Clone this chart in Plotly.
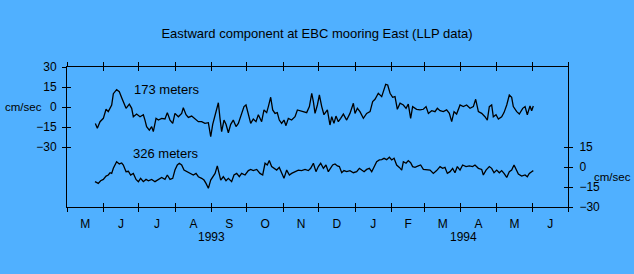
import pandas as pd
import plotly.graph_objects as go

# ---- data (day offsets from 1993-05-01, velocities in cm/sec) ----
days_173 = [24.1, 25.8, 28.1, 30.9, 33.2, 35.1, 38.0, 39.4, 42.2, 44.5, 46.5, 47.9, 50.2, 53.0, 55.0,
            56.4, 59.2, 62.1, 64.9, 66.3, 67.7, 70.0, 72.0, 73.4, 75.7, 77.7, 80.5, 83.3, 85.3, 87.6,
            89.9, 91.8, 94.7, 97.5, 98.9, 101.2, 103.2, 106.0, 108.8, 111.7, 114.5, 117.3, 120.2, 122.2,
            123.9, 125.9, 127.3, 128.7, 130.1, 131.5, 133.5, 135.2, 137.2, 139.2, 141.4, 143.7, 145.7,
            148.5, 150.5, 152.2, 154.2, 156.2, 158.4, 160.7, 162.7, 165.5, 167.5, 169.8, 171.2, 173.2,
            174.9, 176.9, 178.8, 180.5, 182.5, 184.5, 186.2, 188.2, 191.0, 193.9, 195.9, 198.1, 200.4,
            203.8, 206.1, 208.1, 209.5, 210.9, 212.9, 214.6, 216.6, 218.5, 221.4,
            223.6, 225.1, 227.0, 228.7, 230.7, 232.7, 235.0, 237.8, 240.6, 243.5, 244.9, 246.9, 249.1,
            252.0, 254.8, 257.7, 259.9, 261.9, 264.7, 267.6, 269.0, 271.0, 272.7, 274.7, 276.9, 278.9,
            280.9, 283.2, 286.0, 288.3, 290.2, 292.2, 293.9, 297.3, 300.2, 303.0, 305.3, 307.3, 310.1,
            312.9, 314.9, 317.2, 320.0, 322.8, 325.1, 327.1, 329.1, 331.3, 334.2, 337.0, 339.8, 342.7,
            345.5, 347.5, 349.8, 352.6, 355.4, 357.4, 359.1, 361.1, 362.5, 364.8, 366.8, 369.6, 371.6,
            373.9, 376.1, 378.1, 379.5, 382.4, 384.6, 387.5, 389.5, 391.4, 393.7, 395.1, 396.5]
vel_173 = [-12.3, -16, -11, -8.5, -1.7, -3.5, 1.5, 10, 13, 11.5, 7, 4, -1, 2.2, -1,
           -7.3, -5.3, -7.3, -5.8, -9.8, -14.7, -17.3, -14.7, -18.5, -8.5, -9.8, -8.5, -9, -4.2, -9.8,
           -12.3, -4.8, -7.3, -4.8, -0.5, -5.8, -7.8, -6.8, -9, -11, -11, -12.3, -11.8, -22.3,
           -13, -5.8, 0.3, 3.2, -8.5, -18.5, -9.8, -13, -19.3, -13, -9.8, -14.7, -12.3,
           -5.8, 0.3, 1.5, -5.8, -12.3, -9, -11, -5.8, -11, -2.2, -4.2, 0.3, 7.3,
           -2.2, -4.8, -4.2, -9.8, -12.3, -9.8, -14, -8.5, -9.8, -7.3, -2.2, -2.8, -3.5,
           -4.2, 0.3, 10.3, 4, -4.8, 1.5, 9, 0.3, -5.8, -2.2,
           -13.5, -7.3, -12.3, -6.8, -11, -8.5, -5.3, -9.8, -4.8, 2.8, -4.8, -1, -3.5,
           -8.5, -4.8, -3.5, 4, 5.8, 10.3, 7.8, 11.5, 17, 16.5, 10.3, 7.3, 7.8,
           -1.7, 2.8, 1.5, -1, 2.2, -8.5, 0.3, -1.7, -2.2, -1.7, 0.3, -4.8, -2.8,
           -3.5, -1, -2.8, -3.5, -2.2, -4.8, -11, -3.5, -5.3, 1.5, 0.3, 1.5, -1,
           0.3, 5.8, -3.5, -4.8, -7.3, -9.8, 0.3, 1.5, -7.3, -5.8, -9, -7.3, -4.2,
           1.5, 9, 7.3, 0.3, -3.5, -5.3, -1, 0.3, -5.8, 0.8, -2.8, 0.8]

days_326 = [23.8, 26.6, 28.6, 30.9, 33.2, 35.1, 36.6, 38.0, 39.4, 42.2, 44.5, 46.5, 47.9, 50.2, 52.2,
            54.1, 56.4, 58.7, 60.7, 62.6, 64.9, 67.2, 69.2, 72.0, 74.8, 77.7, 80.5, 83.3, 85.3, 87.6,
            89.9, 91.8, 93.8, 95.5, 97.5, 99.5, 101.8, 104.6, 107.4, 109.7, 111.7, 114.5, 116.5, 118.2,
            120.2, 122.2, 123.9, 125.9, 127.8, 129.0, 130.7, 132.9, 135.2, 137.2, 140.0, 142.0, 144.3,
            146.5, 148.5, 151.4, 154.2, 156.2, 158.4, 161.3, 164.1, 166.4, 168.4, 170.3, 172.0, 174.0,
            176.0, 178.3, 180.5, 182.5, 184.5, 186.8, 189.1, 191.0, 193.9, 196.7, 199.5, 202.4, 205.2,
            207.2, 209.5, 211.7, 213.7, 215.7, 218.0, 220.2, 222.2,
            223.6, 225.9, 227.9, 229.9, 231.6, 233.6, 235.5, 237.8, 240.6, 243.5, 246.3, 248.6, 250.6,
            252.6, 254.8, 257.1, 259.1, 261.1, 263.3, 265.6, 267.6, 269.6, 271.8, 274.1, 276.1, 278.1,
            280.3, 282.6, 284.6, 286.0, 288.3, 290.2, 292.2, 293.9, 295.9, 298.7, 300.7, 303.0, 305.8,
            308.7, 311.5, 314.3, 317.2, 319.4, 321.4, 323.4, 325.7, 327.9, 329.9, 331.9, 334.2, 336.4,
            339.3, 342.1, 344.9, 346.9, 349.8, 352.6, 354.0, 356.3, 359.1, 361.1, 363.1, 365.4, 367.6,
            369.6, 371.6, 373.9, 376.1, 378.1, 380.1, 381.8, 383.8, 386.6, 389.5, 391.4, 393.1, 395.1,
            396.5]
vel_326 = [-11, -12.3, -10.3, -9.3, -6.8, -6, -4.3, -4.8, -1, 4, 2.3, 3, 1.5, -3.5, -3.2,
           -6, -4.8, -9.3, -11, -8.5, -11, -9.3, -10.3, -9.3, -11, -9.3, -7.8, -9.3, -6, -9.3,
           -8.5, -2.3, 1.5, 2.8, 1.5, -2.3, -3.5, -4.8, -6, -4.8, -7.3, -8.5, -9.8, -12.3,
           -16, -9.8, -7.3, -4.8, 0.8, -4.8, -9.8, -7.3, -10.3, -8.5, -11, -6, -4.8,
           -7.3, -4.8, -6, -2.7, -1.8, -2.7, -1.8, -4.8, -6, 2.8, 1.5, 4.8, 0.3,
           -1, -2.3, -0.3, -4.3, -8.5, -2.3, -6, -4.8, -3.5, -2.3, -2.7, -1.8, -2.7,
           -1, 2.8, -3.5, 0.3, 2.8, -1, 1.5, -3.5,
           -1.8, 1.5, 2.3, 0.8, 0.3, -4.3, -2.7, -3.5, -2.7, -4.3, -3.5, -1, -2.3,
           -3.5, -1.8, -1, -3.5, 0.3, 4, 5.3, 5.5, 6.5, 5.5, 7.3, 5.3, 6.5,
           1.5, -0.3, -2.3, 4, 2.8, 4.8, 3.2, 0.3, -0.3, 0.8, 1.5, -1.8, -1.8,
           -2.3, -4.8, -2.7, 0.3, -1, -0.3, -4.8, -3.5, -1, -4.3, 0.3, -2.3, 1.5,
           0.3, 0.8, 0.3, 1.5, -1, -1.8, -6, -2.3, 0.3, -1, -4.3, -2.3, -4.3,
           -2.7, -4.8, -7.8, -3.5, -2.3, 1.5, -2.3, -5.3, -6.8, -6, -7.3, -4.8, -3.5,
           -2.7]

month_letters = ["M", "J", "J", "A", "S", "O", "N", "D", "J", "F", "M", "A", "M", "J"]
year_labels = ["1993", "1994"]
year_label_dates = ["1993-09-01", "1994-04-03"]
left_ticks = [-30, -15, 0, 15, 30]
right_ticks = [-30, -15, 0, 15]

start = pd.Timestamp("1993-05-01")
t173 = start + pd.to_timedelta(days_173, unit="D")
t326 = start + pd.to_timedelta(days_326, unit="D")

month_starts = pd.date_range("1993-05-01", "1994-07-01", freq="MS")
mid_months = [month_starts[i] + (month_starts[i + 1] - month_starts[i]) / 2 for i in range(len(month_starts) - 1)]
xrange = [month_starts[0], month_starts[-1]]

BG = "rgb(80,176,255)"
FONT = "Liberation Sans, Arial, sans-serif"
W_PLOT = 501  # plot-area width in px (used for paper-coordinate offsets of side labels)

fig = go.Figure()
fig.add_trace(go.Scatter(x=t173, y=vel_173, mode="lines", line=dict(color="black", width=1.3),
                         xaxis="x", yaxis="y", showlegend=False, hoverinfo="skip"))
fig.add_trace(go.Scatter(x=t326, y=vel_326, mode="lines", line=dict(color="black", width=1.3),
                         xaxis="x", yaxis="y3", showlegend=False, hoverinfo="skip"))
# empty traces to anchor overlay axes
for xa, ya in [("x2", "y2"), ("x3", "y4")]:
    fig.add_trace(go.Scatter(x=[], y=[], xaxis=xa, yaxis=ya, showlegend=False))

common_x = dict(type="date", range=xrange, showgrid=False, zeroline=False, showline=True,
                linecolor="black", linewidth=1, tickcolor="black", tickwidth=1)
common_y = dict(showgrid=False, zeroline=False, showline=True, linecolor="black", linewidth=1,
                tickcolor="black", tickwidth=1, tickfont=dict(family=FONT, size=12, color="black"))

fig.update_layout(
    width=634, height=274,
    margin=dict(l=67, r=66, t=67, b=67),
    paper_bgcolor=BG, plot_bgcolor=BG,
    font=dict(family=FONT, size=12, color="black"),
    title=dict(text="Eastward component at EBC mooring East (LLP data)", x=0.5, xanchor="center",
               y=1 - 33 / 274, yanchor="middle", font=dict(family=FONT, size=13, color="black")),
    xaxis=dict(**common_x, tickvals=month_starts, ticks="outside", ticklen=4, mirror="ticks",
               showticklabels=False, anchor="y"),
    xaxis2=dict(**common_x, tickvals=month_starts, ticks="inside", ticklen=4, mirror="ticks",
                showticklabels=False, overlaying="x", anchor="y2"),
    xaxis3=dict(type="date", range=xrange, showgrid=False, zeroline=False, showline=False,
                tickvals=mid_months, ticktext=month_letters, ticks="", ticklen=0,
                tickfont=dict(family=FONT, size=12, color="black"), overlaying="x", anchor="y4",
                side="bottom", ticklabelstandoff=8),
    yaxis=dict(**common_y, range=[-75, 30], tickvals=left_ticks, ticks="outside", ticklen=4,
               side="left", anchor="x", ticklabelstandoff=3),
    yaxis2=dict(**common_y, range=[-75, 30], tickvals=left_ticks, ticks="inside", ticklen=4,
                showticklabels=False, side="left", overlaying="y", anchor="x2"),
    yaxis3=dict(**common_y, range=[-30, 75], tickvals=right_ticks, ticks="outside", ticklen=4,
                side="right", overlaying="y", anchor="x", ticklabelstandoff=4),
    yaxis4=dict(**common_y, range=[-30, 75], tickvals=right_ticks, ticks="inside", ticklen=4,
                showticklabels=False, side="right", overlaying="y", anchor="x3"),
)

annotations = [
    dict(text="cm/sec", xref="paper", yref="y", x=(3 - 67) / W_PLOT, y=0, xanchor="left",
         yanchor="middle", showarrow=False, font=dict(size=11.5)),
    dict(text="cm/sec", xref="paper", yref="y3", x=(592 - 67) / W_PLOT, y=-7.2, xanchor="left",
         yanchor="middle", showarrow=False, font=dict(size=11.5)),
    dict(text="173 meters", xref="x", yref="y", x=start + pd.Timedelta(days=55.5), y=13.5,
         xanchor="left", yanchor="middle", showarrow=False, font=dict(size=13)),
    dict(text="326 meters", xref="x", yref="y3", x=start + pd.Timedelta(days=54.5), y=10,
         xanchor="left", yanchor="middle", showarrow=False, font=dict(size=13)),
]
for lbl, d in zip(year_labels, year_label_dates):
    annotations.append(dict(text=lbl, xref="x", yref="paper", x=d, y=-30 / 140, xanchor="center",
                            yanchor="middle", showarrow=False, font=dict(size=12)))
fig.update_layout(annotations=annotations)

fig.write_html("out.html")
